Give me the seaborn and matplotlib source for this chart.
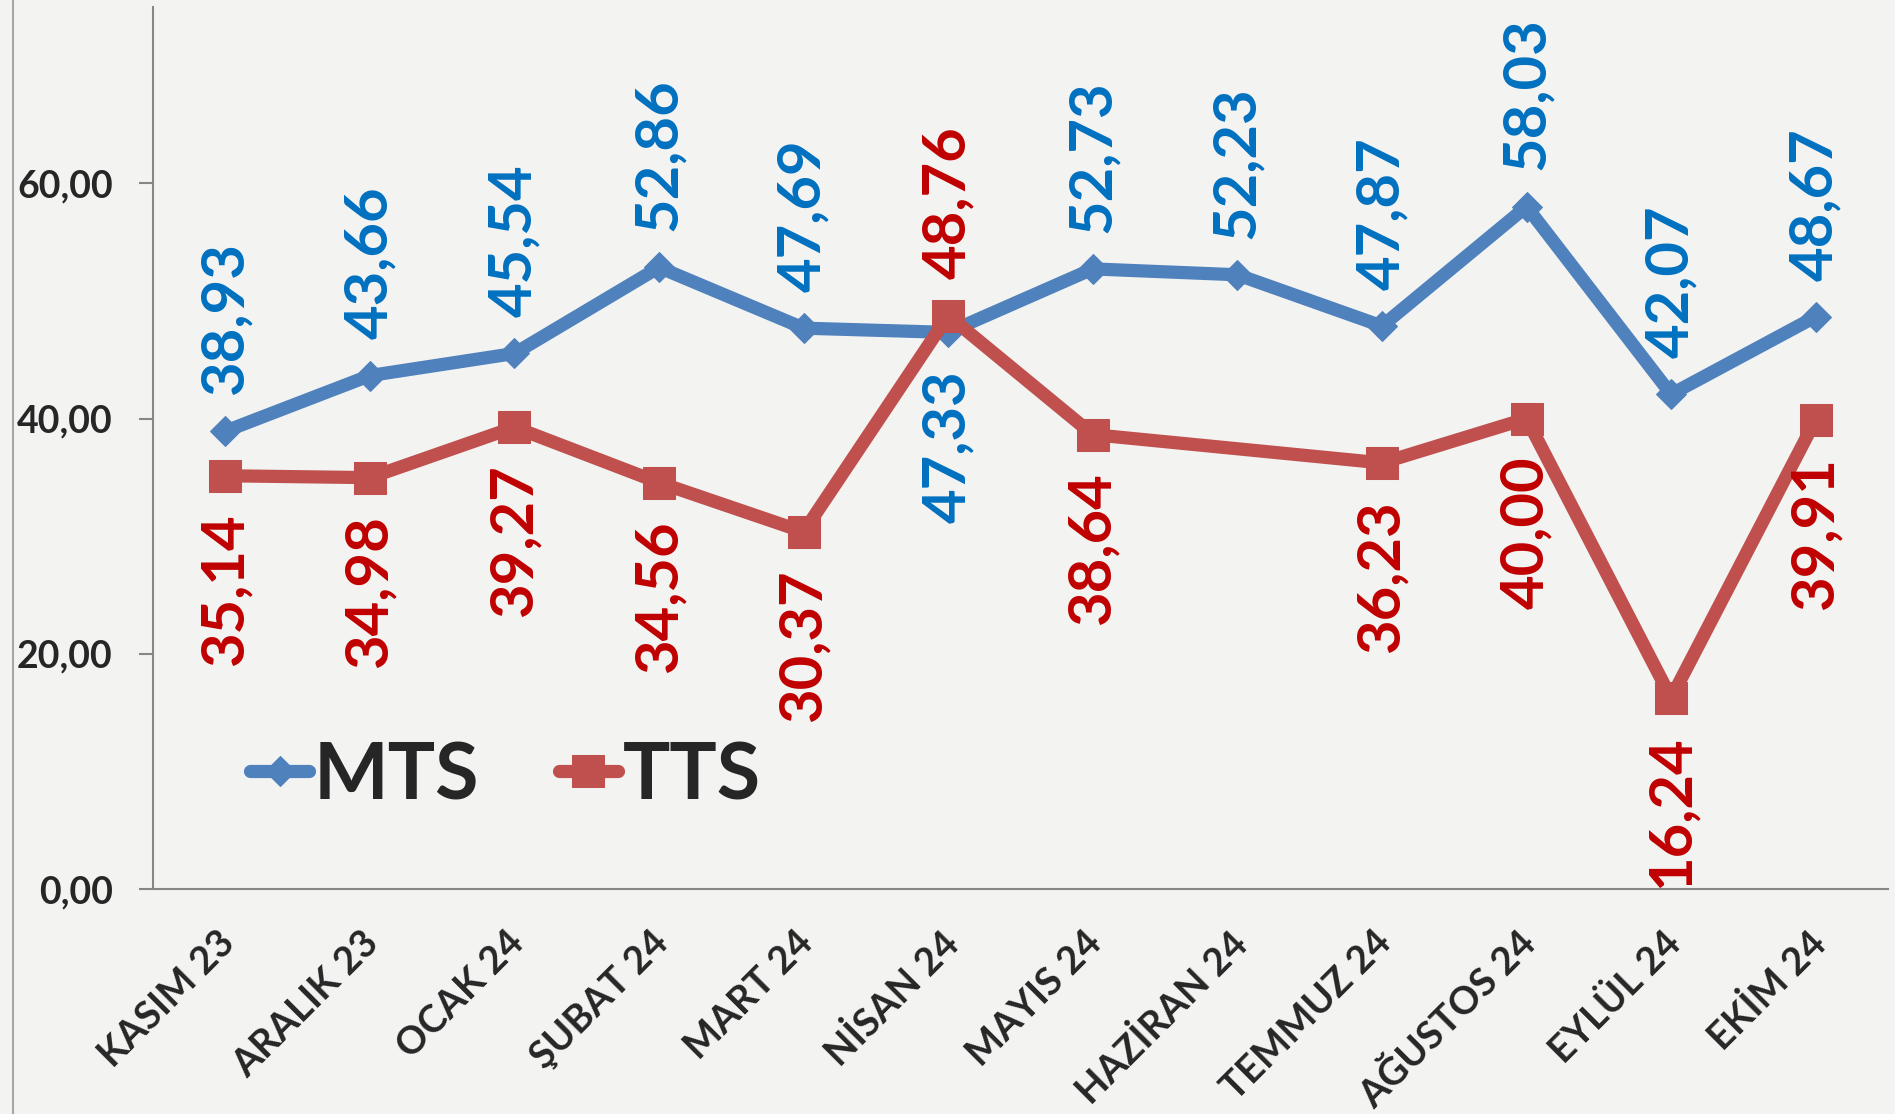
import numpy as np
import pandas as pd
import matplotlib
matplotlib.use('Agg')
import matplotlib.pyplot as plt
import matplotlib.transforms as mtransforms
from matplotlib.lines import Line2D
from matplotlib.ticker import FuncFormatter
import seaborn as sns

months = ['KASIM 23', 'ARALIK 23', 'OCAK 24', 'ŞUBAT 24', 'MART 24', 'NİSAN 24',
          'MAYIS 24', 'HAZİRAN 24', 'TEMMUZ 24', 'AĞUSTOS 24', 'EYLÜL 24', 'EKİM 24']
mts = [38.93, 43.66, 45.54, 52.86, 47.69, 47.33, 52.73, 52.23, 47.87, 58.03, 42.07, 48.67]
tts = [35.14, 34.98, 39.27, 34.56, 30.37, 48.76, 38.64, np.nan, 36.23, 40.00, 16.24, 39.91]

line_colors = {'MTS': '#4f81bd', 'TTS': '#c0504d'}
label_colors = {'MTS': '#0070c0', 'TTS': '#c00000'}
bg = '#f3f3f2'

sns.set_style('white')
plt.rcParams['font.family'] = ['Lato', 'DejaVu Sans']
plt.rcParams['font.weight'] = 'bold'

fig = plt.figure(figsize=(18.95, 11.14), dpi=100, facecolor=bg)
ax = fig.add_axes([153 / 1895, 1 - 889 / 1114, (1888 - 153) / 1895, (889 - 7) / 1114])
ax.set_facecolor(bg)

df = pd.DataFrame({'month': months, 'MTS': mts, 'TTS': tts})

sns.lineplot(data=df, x='month', y='MTS', sort=False, color=line_colors['MTS'],
             lw=9.5, marker='D', ms=15, mec=line_colors['MTS'], label='MTS', ax=ax)
sns.lineplot(data=df.dropna(subset=['TTS']), x='month', y='TTS', sort=False,
             color=line_colors['TTS'], lw=9.5, marker='s', ms=23,
             mec=line_colors['TTS'], label='TTS', ax=ax)

# data labels: the higher series at a month gets its label above
for i in range(len(months)):
    for name, vals, other in (('MTS', mts, tts), ('TTS', tts, mts)):
        v = vals[i]
        if np.isnan(v):
            continue
        above = np.isnan(other[i]) or v >= other[i]
        ax.annotate(f'{v:.2f}'.replace('.', ','), (i, v),
                    xytext=(0, 26 if above else -27), textcoords='offset points',
                    rotation=90, ha='center', va='bottom' if above else 'top',
                    fontsize=43, fontweight='bold', color=label_colors[name])

ax.set_xlim(-0.5, len(months) - 0.5)
ax.set_ylim(0, 75)
ax.set_yticks([0, 20, 40, 60])
ax.yaxis.set_major_formatter(FuncFormatter(lambda v, p: f'{v:.2f}'.replace('.', ',')))
ax.set_xticks(range(len(months)))
ax.set_xticklabels(months, rotation=45, ha='right', rotation_mode='anchor')
ax.set_xlabel('')
ax.set_ylabel('')

# category ticks sit between the labels, like in the source
ax.set_xticks(np.arange(-0.5, len(months)), minor=True)
ax.tick_params(axis='x', which='major', length=0, pad=26, labelsize=27.5)
ax.tick_params(axis='x', which='minor', length=10, width=1.5, color='#868686', direction='out')
ax.tick_params(axis='y', length=10, width=1.5, color='#868686', pad=19, labelsize=27,
               direction='out', left=True)
shift = mtransforms.ScaledTranslation(-6 / 72, 0, fig.dpi_scale_trans)
for lab in ax.get_xticklabels():
    lab.set_fontweight('bold')
    lab.set_transform(lab.get_transform() + shift)
for lab in ax.get_yticklabels():
    lab.set_fontweight('bold')

for s in ['top', 'right']:
    ax.spines[s].set_visible(False)
for s in ['left', 'bottom']:
    ax.spines[s].set_color('#868686')
    ax.spines[s].set_linewidth(1.5)

ax.legend(loc='center left', bbox_to_anchor=(250 / 1895, 1 - 777 / 1114),
          bbox_transform=fig.transFigure, ncol=2, frameon=False,
          prop={'size': 57, 'weight': 'bold'}, handlelength=0.75,
          handletextpad=0.06, columnspacing=1.0, borderpad=0, borderaxespad=0)

fig.add_artist(Line2D([13 / 1895, 13 / 1895], [0, 1], color='#a6a6a6', lw=1.5))

fig.savefig('out.png', dpi=100, facecolor=bg)
